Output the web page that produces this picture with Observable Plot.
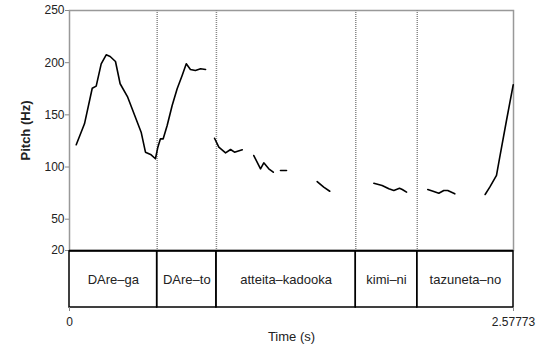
<!DOCTYPE html>
<html>
<head>
<meta charset="utf-8">
<script src="https://cdn.jsdelivr.net/npm/d3@7"></script>
<script src="https://cdn.jsdelivr.net/npm/@observablehq/plot@0.6"></script>
<style>
  body { margin: 0; background: white; }
  #chart svg { display: block; }
  g[aria-label="y-axis label"] text { font-weight: bold; font-size: 13px; }
  g[aria-label="x-axis label"] text { font-size: 13px; }
</style>
</head>
<body>
<div id="chart"></div>
<script>
// Pitch contour points (time in s, pitch in Hz), grouped by voiced stretch
const pitchSeg = [1,1,1,1,1,1,1,1,1,1,1,1,1,1,1,1,1,1,1,1,1,1,1,1,1,1,
                  2,2,2,2,2,2,
                  3,3,3,3,3,
                  4,4,
                  5,5,5,
                  6,6,6,6,6,6,6,
                  7,7,7,7,7,7,
                  8,8,8,8,8,8];
const pitchTime = [0.039,0.087,0.132,0.155,0.184,0.213,0.236,0.267,0.294,0.338,0.416,0.441,0.474,0.499,0.513,0.528,0.544,0.567,0.596,0.625,0.654,0.678,0.702,0.731,0.761,0.790,
                   0.842,0.867,0.906,0.935,0.958,1.003,
                   1.070,1.109,1.128,1.157,1.183,
                   1.225,1.260,
                   1.438,1.476,1.511,
                   1.767,1.815,1.854,1.883,1.916,1.932,1.957,
                   2.080,2.115,2.144,2.173,2.196,2.237,
                   2.413,2.440,2.479,2.498,2.537,2.576];
const pitchHz = [121.3,141.4,175.5,177.5,198.9,207.5,205.9,201.1,179.8,166.9,133.4,114.2,111.7,107.9,119,127,127,139.8,159,175,187.7,198.9,193.5,192.5,194.1,193.5,
                 127.6,119,113.6,116.8,114.2,116.5,
                 111,98.3,104,98.3,95,
                 96.7,96.7,
                 86.1,80.7,76.8,
                 84.5,82.3,79.1,77.5,79.7,78.5,75.9,
                 78.5,76.6,74.9,77.5,77.5,74.3,
                 73.7,80.7,91.9,109.4,144.6,178.8];

// Text grid intervals
const intervalLabels = ["DAre\u2013ga","DAre\u2013to","atteita\u2013kadooka","kimi\u2013ni","tazuneta\u2013no"];
const intervalStart = [0, 0.509, 0.853, 1.662, 2.019];
const intervalEnd = [0.509, 0.853, 1.662, 2.019, 2.57773];

// Axes
const totalDuration = 2.57773;
const yTicks = [20, 50, 100, 150, 200, 250];
const xTicks = [0, 2.57773];
const xTickLabels = ["0", "2.57773"];

const pitch = pitchTime.map((t, i) => ({t, f: pitchHz[i], seg: pitchSeg[i]}));
const intervals = intervalLabels.map((label, i) => ({label, start: intervalStart[i], end: intervalEnd[i]}));
const boundaries = intervalStart.slice(1);

const chartStyle = {fontFamily: "'Liberation Sans', Arial, sans-serif", fontSize: "12px", color: "#222", background: "white", overflow: "visible"};

const pitchChart = Plot.plot({
  width: 543, height: 251,
  marginTop: 10, marginBottom: 1, marginLeft: 69, marginRight: 30,
  style: chartStyle,
  x: {domain: [0, totalDuration], axis: null},
  y: {domain: [20, 250]},
  marks: [
    Plot.frame({stroke: "#999", strokeWidth: 1.5}),
    Plot.ruleX(boundaries, {stroke: "#888", strokeWidth: 1.5, strokeDasharray: "1,1"}),
    Plot.axisY({ticks: yTicks, tickSize: 4, tickPadding: 1, stroke: "#888", fill: "#222",
                label: "Pitch (Hz)", labelAnchor: "center", labelArrow: "none", labelOffset: 49}),
    Plot.line(pitch, {x: "t", y: "f", z: "seg", stroke: "black", strokeWidth: 1.6}),
    Plot.ruleY([20], {stroke: "black", strokeWidth: 1.5})
  ]
});

const gridChart = Plot.plot({
  width: 543, height: 94,
  marginTop: 0, marginBottom: 38, marginLeft: 69, marginRight: 30,
  style: chartStyle,
  x: {domain: [0, totalDuration]},
  y: {domain: [0, 1], axis: null},
  marks: [
    Plot.rect(intervals, {x1: "start", x2: "end", y1: 0, y2: 1, fill: "none", stroke: "black", strokeWidth: 1.5}),
    Plot.text(intervals, {x: d => (d.start + d.end) / 2, y: 0.5, text: "label", fill: "#222", fontSize: 13}),
    Plot.axisX({ticks: xTicks, tickFormat: (d, i) => xTickLabels[i], tickSize: 4, tickPadding: 6, stroke: "#888", fill: "#222",
                label: "Time (s)", labelAnchor: "center", labelArrow: "none", labelOffset: 33})
  ]
});

const el = document.getElementById("chart");
el.appendChild(pitchChart);
el.appendChild(gridChart);
</script>
</body>
</html>
